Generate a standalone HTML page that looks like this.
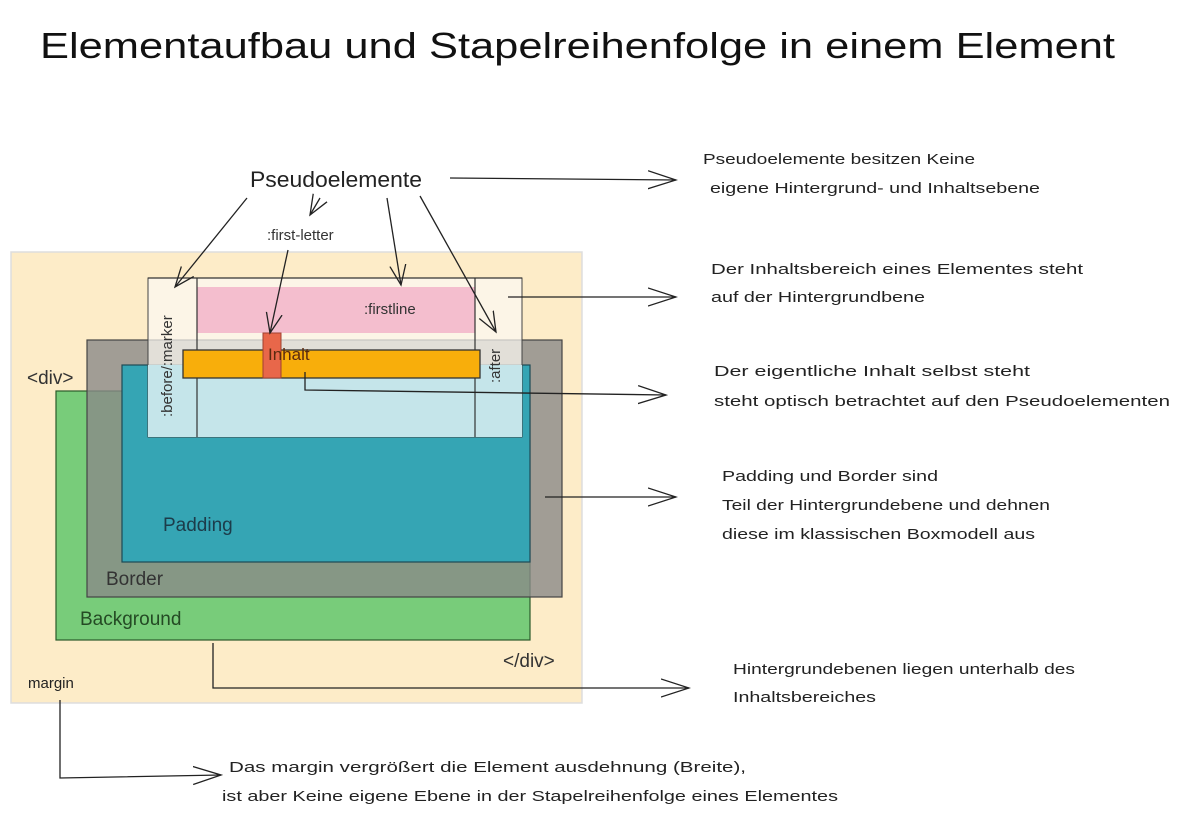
<!DOCTYPE html>
<html><head><meta charset="utf-8"><style>
html,body{margin:0;padding:0;background:#fff;}
svg{display:block}
.h{font-family:"Liberation Sans","DejaVu Sans",sans-serif;fill:#222;font-size:15px;}
.l{font-family:"Liberation Sans","DejaVu Sans",sans-serif;fill:#333;font-size:16px;}
</style></head><body>
<svg width="1181" height="816" viewBox="0 0 1181 816" xmlns="http://www.w3.org/2000/svg">
<defs><marker id="a" markerWidth="30" markerHeight="20" refX="28" refY="10" orient="auto" markerUnits="userSpaceOnUse"><path d="M0,1 L28,10 L0,19" fill="none" stroke="#222" stroke-width="1.3"/></marker>
<marker id="s" markerWidth="22" markerHeight="18" refX="20" refY="9" orient="auto" markerUnits="userSpaceOnUse"><path d="M0,1 L20,9 L0,17" fill="none" stroke="#222" stroke-width="1.3"/></marker></defs>
<text x="40" y="58" class="h" style="font-size:36px;fill:#111" textLength="1075" lengthAdjust="spacingAndGlyphs">Elementaufbau und Stapelreihenfolge in einem Element</text>
<rect x="11" y="252" width="571" height="451" fill="#fdecc8" stroke="#ddd" stroke-width="1.5"/>
<rect x="56" y="391" width="474" height="249" fill="#78cc7a" stroke="#2a5a2a" stroke-width="1.2"/>
<rect x="87" y="340" width="475" height="257" fill="#8a8a88" fill-opacity="0.8"/>
<rect x="87" y="340" width="475" height="257" fill="none" stroke="#444" stroke-width="1.2"/>
<rect x="122" y="365" width="408" height="197" fill="#35a5b4" stroke="#1d4a55" stroke-width="1.2"/>
<rect x="148" y="278" width="374" height="159" fill="#fbf8f2" fill-opacity="0.72" stroke="#444" stroke-width="1"/>
<rect x="148" y="365" width="374" height="72" fill="#c5e5ea"/>
<rect x="197" y="287" width="278" height="46" fill="#f4bece"/>
<line x1="197" y1="278" x2="197" y2="437" stroke="#333" stroke-width="1.2"/>
<line x1="475" y1="278" x2="475" y2="437" stroke="#333" stroke-width="1.2"/>
<line x1="148" y1="278" x2="522" y2="278" stroke="#333" stroke-width="1.2"/>
<rect x="183" y="350" width="297" height="28" fill="#f8ae0b" stroke="#333" stroke-width="1.3"/>
<rect x="263" y="333" width="18" height="45" fill="#e8674a" stroke="#a04030" stroke-width="1"/>
<text x="27" y="384" class="l" style="font-size:19px">&lt;div&gt;</text>
<text x="503" y="667" class="l" style="font-size:19px">&lt;/div&gt;</text>
<text x="364" y="314" class="l" style="font-size:15px">:firstline</text>
<text x="267" y="240" class="l" style="font-size:15px">:first-letter</text>
<text transform="translate(172,417) rotate(-90)" class="l" style="font-size:15px">:before/:marker</text>
<text transform="translate(500,383) rotate(-90)" class="l" style="font-size:15px">:after</text>
<text x="268" y="360" class="h" style="font-size:17px;fill:#5a2a10">Inhalt</text>
<text x="163" y="531" class="h" style="font-size:19px;fill:#1c3c4a">Padding</text>
<text x="106" y="585" class="h" style="font-size:19px;fill:#333">Border</text>
<text x="80" y="625" class="h" style="font-size:19px;fill:#244a24">Background</text>
<text x="28" y="688" class="h" style="font-size:15px">margin</text>
<text x="250" y="187" class="h" style="font-size:22px" textLength="172" lengthAdjust="spacingAndGlyphs">Pseudoelemente</text>
<g stroke="#222" stroke-width="1.3" fill="none">
<line x1="450" y1="178" x2="676" y2="180" marker-end="url(#a)"/>
<line x1="508" y1="297" x2="676" y2="297" marker-end="url(#a)"/>
<polyline points="305,372 305,390 666,395" marker-end="url(#a)"/>
<line x1="545" y1="497" x2="676" y2="497" marker-end="url(#a)"/>
<polyline points="213,643 213,688 689,688" marker-end="url(#a)"/>
<polyline points="60,700 60,778 221,775" marker-end="url(#a)"/>
<line x1="247" y1="198" x2="175" y2="287" marker-end="url(#s)"/>
<line x1="320" y1="198" x2="310" y2="215" marker-end="url(#s)"/>
<line x1="387" y1="198" x2="401" y2="285" marker-end="url(#s)"/>
<line x1="420" y1="196" x2="496" y2="332" marker-end="url(#s)"/>
<line x1="288" y1="250" x2="270" y2="333" marker-end="url(#s)"/>
</g>
<text x="703" y="164" class="h" textLength="272" lengthAdjust="spacingAndGlyphs">Pseudoelemente besitzen Keine</text>
<text x="710" y="193" class="h" textLength="330" lengthAdjust="spacingAndGlyphs">eigene Hintergrund- und Inhaltsebene</text>
<text x="711" y="274" class="h" textLength="372" lengthAdjust="spacingAndGlyphs">Der Inhaltsbereich eines Elementes steht</text>
<text x="711" y="302" class="h" textLength="214" lengthAdjust="spacingAndGlyphs">auf der Hintergrundbene</text>
<text x="714" y="376" class="h" textLength="316" lengthAdjust="spacingAndGlyphs">Der eigentliche Inhalt selbst steht</text>
<text x="714" y="406" class="h" textLength="456" lengthAdjust="spacingAndGlyphs">steht optisch betrachtet auf den Pseudoelementen</text>
<text x="722" y="481" class="h" textLength="216" lengthAdjust="spacingAndGlyphs">Padding und Border sind</text>
<text x="722" y="510" class="h" textLength="328" lengthAdjust="spacingAndGlyphs">Teil der Hintergrundebene und dehnen</text>
<text x="722" y="539" class="h" textLength="313" lengthAdjust="spacingAndGlyphs">diese im klassischen Boxmodell aus</text>
<text x="733" y="674" class="h" textLength="342" lengthAdjust="spacingAndGlyphs">Hintergrundebenen liegen unterhalb des</text>
<text x="733" y="702" class="h" textLength="143" lengthAdjust="spacingAndGlyphs">Inhaltsbereiches</text>
<text x="229" y="772" class="h" textLength="517" lengthAdjust="spacingAndGlyphs">Das margin vergrößert die Element ausdehnung (Breite),</text>
<text x="222" y="801" class="h" textLength="616" lengthAdjust="spacingAndGlyphs">ist aber Keine eigene Ebene in der Stapelreihenfolge eines Elementes</text>
</svg>
</body></html>
